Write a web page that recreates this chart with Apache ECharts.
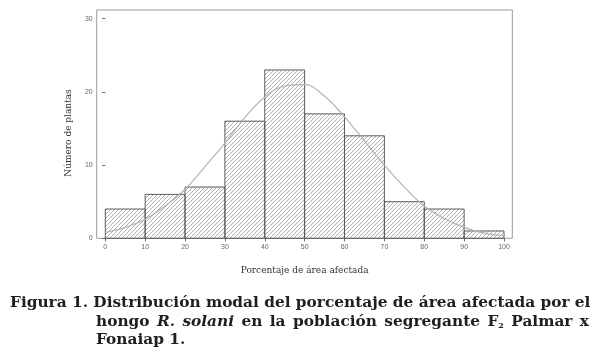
<!DOCTYPE html>
<html>
<head>
<meta charset="utf-8">
<script src="https://cdn.jsdelivr.net/npm/echarts@6/dist/echarts.min.js"></script>
<style>
  html, body { margin: 0; padding: 0; background: #fff; }
  #chart { width: 600px; height: 353px; }
</style>
</head>
<body>
<div id="chart"></div>
<script>
// histogram bins (lower edge, width 10) and counts
var binStarts = [0, 10, 20, 30, 40, 50, 60, 70, 80, 90];
var counts = [4, 6, 7, 16, 23, 17, 14, 5, 4, 1];
var binWidth = 10;

// fitted curve
var curveX = [0, 5, 10, 15, 20, 25, 30, 35, 40, 45, 50, 55, 60, 65, 70, 75, 80, 85, 90, 95, 100];
var curveY = [0.8, 1.5, 2.6, 4.4, 6.7, 9.8, 13.0, 16.5, 19.3, 20.8, 21.0, 19.4, 16.6, 13.3, 10.0, 7.0, 4.4, 2.7, 1.5, 0.7, 0.35];

var xTicks = [0, 100, 10];   // min, max, step
var yTicks = [0, 30, 10];

// hatch pattern for the bars
var hatch = document.createElement('canvas');
hatch.width = 4; hatch.height = 4;
var hc = hatch.getContext('2d');
hc.strokeStyle = '#9a9a9a';
hc.lineWidth = 0.8;
hc.beginPath();
hc.moveTo(0, 4); hc.lineTo(4, 0);
hc.moveTo(-1, 1); hc.lineTo(1, -1);
hc.moveTo(3, 5); hc.lineTo(5, 3);
hc.stroke();

var chart = echarts.init(document.getElementById('chart'));

var bins = binStarts.map(function (s, i) { return [s, s + binWidth, counts[i]]; });
var curve = curveX.map(function (x, i) { return [x, curveY[i]]; });

var serif = '"DejaVu Serif", "Liberation Serif", serif';
var capFont = 'bold 15.35px ' + serif;

option = {
    animation: false,
    grid: [
	// frame
	{ left: 96.7, right: 87.7, top: 10, bottom: 114.7, show: true, borderColor: '#9a9a9a', borderWidth: 1 },
	// data area
	{ left: 105.3, right: 96, top: 18.7, bottom: 114.7 }
    ],
    xAxis: [
	{ gridIndex: 0, type: 'value', show: false, min: 0, max: 1 },
	{
	    gridIndex: 1, type: 'value',
	    min: xTicks[0], max: xTicks[1], interval: xTicks[2],
	    name: 'Porcentaje de área afectada',
	    nameLocation: 'middle', nameGap: 28,
	    nameTextStyle: { fontFamily: serif, fontSize: 9, color: '#333' },
	    axisLine: { show: false },
	    axisTick: { show: true, length: 3, lineStyle: { color: '#666' } },
	    axisLabel: { fontSize: 7, color: '#666', margin: 5, fontFamily: 'Liberation Sans, Arial' },
	    splitLine: { show: false }
	}
    ],
    yAxis: [
	{ gridIndex: 0, type: 'value', show: false, min: 0, max: 1 },
	{
	    gridIndex: 1, type: 'value', offset: 8.6,
	    min: yTicks[0], max: yTicks[1], interval: yTicks[2],
	    name: 'Número de plantas',
	    nameLocation: 'middle', nameGap: 24,
	    nameTextStyle: { fontFamily: serif, fontSize: 9, color: '#333', padding: [0, 9, 0, 0] },
	    axisLine: { show: false },
	    axisTick: { show: true, length: 3, lineStyle: { color: '#666' } },
	    axisLabel: { fontSize: 7, color: '#666', margin: 4, fontFamily: 'Liberation Sans, Arial' },
	    splitLine: { show: false }
	}
    ],
    series: [
	{
	    type: 'custom',
	    xAxisIndex: 1, yAxisIndex: 1,
	    data: bins,
	    encode: { x: [0, 1], y: 2 },
	    renderItem: function (params, api) {
		var p0 = api.coord([api.value(0), 0]);
		var p1 = api.coord([api.value(1), api.value(2)]);
		return {
		    type: 'rect',
		    shape: { x: p0[0], y: p1[1], width: p1[0] - p0[0], height: p0[1] - p1[1] },
		    style: { fill: { image: hatch, repeat: 'repeat' }, stroke: '#5a5a5a', lineWidth: 1 }
		};
	    }
	},
	{
	    type: 'line',
	    xAxisIndex: 1, yAxisIndex: 1,
	    data: curve,
	    smooth: 0.4,
	    symbol: 'none',
	    lineStyle: { color: '#b4b4b4', width: 1.2 },
	    z: 5
	}
    ],
    graphic: [
	{
	    type: 'text', left: 10, top: 296,
	    style: { text: 'Figura 1. Distribución modal del porcentaje de área afectada por el',
		     font: capFont, fill: '#1f1f1f' }
	},
	{
	    type: 'text', left: 96, top: 314.5,
	    style: {
		text: '{b|hongo}{g| }{i|R.}{g| }{i|solani}{g| }{b|en}{g| }{b|la}{g| }{b|población}{g| }{b|segregante}{g| }{b|F}{s|2}{g| }{b|Palmar}{g| }{b|x}',
		rich: {
		    b: { font: capFont, fill: '#1f1f1f' },
		    i: { font: 'italic ' + capFont, fill: '#1f1f1f' },
		    g: { font: capFont, width: 7.4 },
		    s: { font: 'bold 8px ' + serif, fill: '#1f1f1f', padding: [7, 0, 0, 0] }
		}
	    }
	},
	{
	    type: 'text', left: 96, top: 333,
	    style: { text: 'Fonaiap 1.', font: capFont, fill: '#1f1f1f' }
	}
    ]
};

chart.setOption(option);
</script>
</body>
</html>
